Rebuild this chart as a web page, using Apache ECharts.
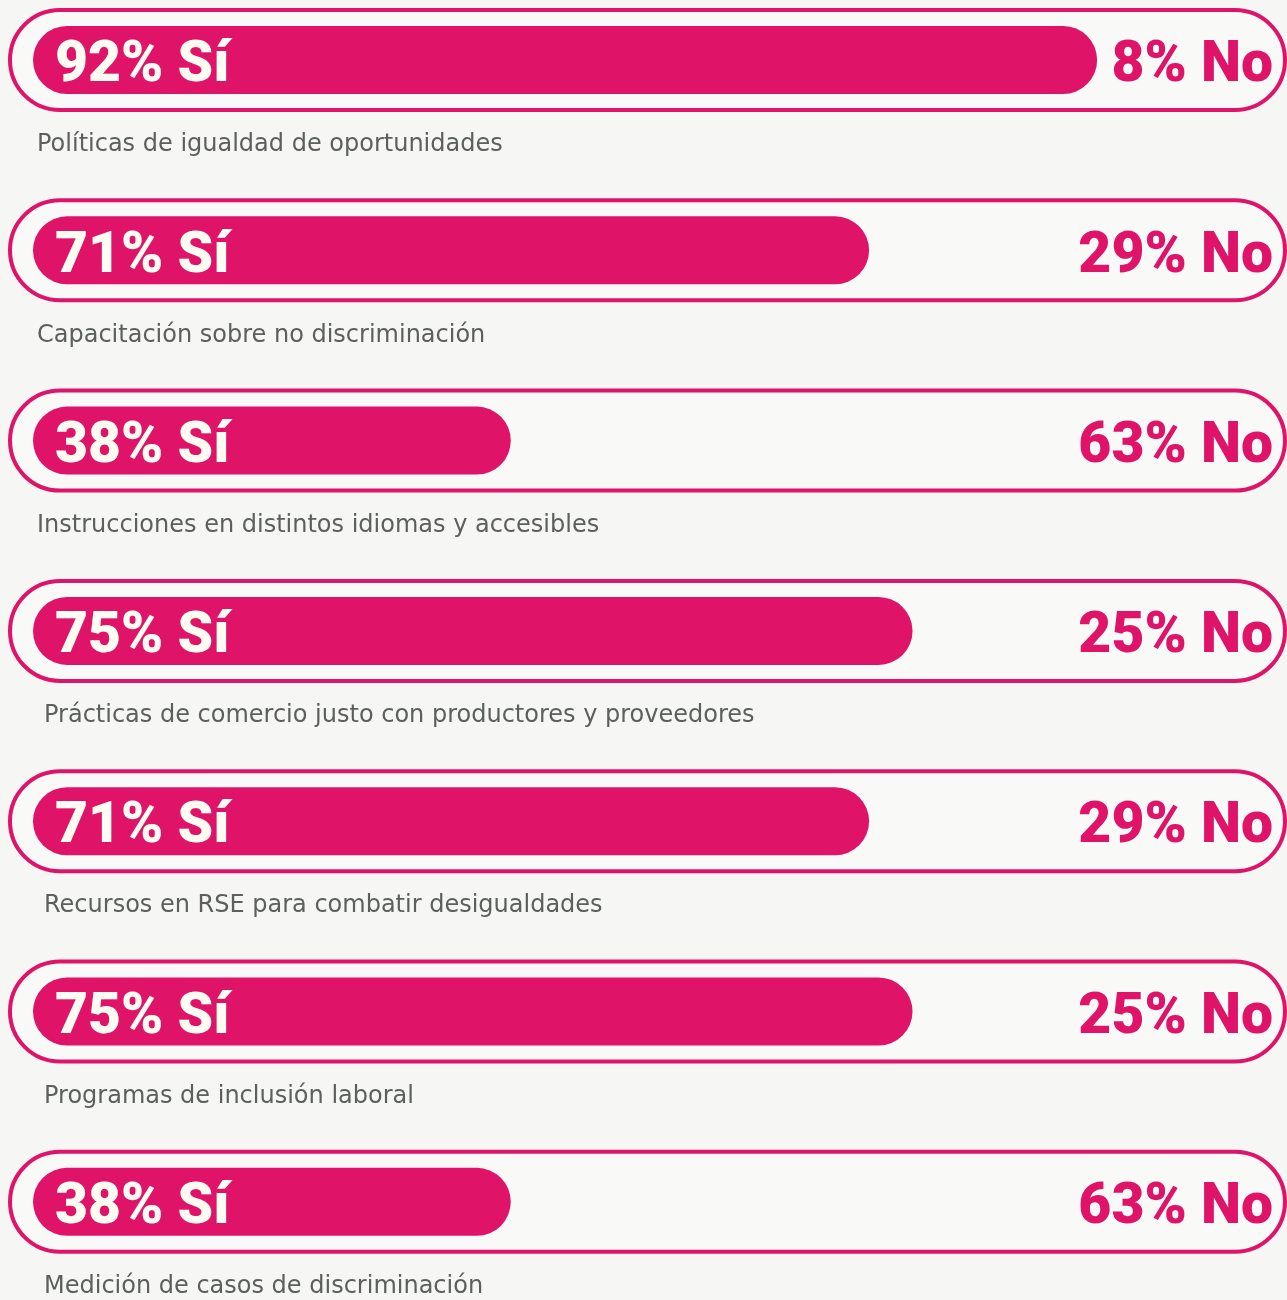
<!DOCTYPE html>
<html>
<head>
  <meta charset="utf-8">
  <title>RSE encuesta</title>
  <script src="https://cdn.jsdelivr.net/npm/echarts@6/dist/echarts.min.js"></script>
  <style>
    html, body { margin: 0; padding: 0; background: #f6f6f5; }
  </style>
</head>
<body>
  <div id="main" style="width:1287px;height:1300px;"></div>
  <script type="text/javascript">
    // datos
    var categories = [
      'Políticas de igualdad de oportunidades',
      'Capacitación sobre no discriminación',
      'Instrucciones en distintos idiomas y accesibles',
      'Prácticas de comercio justo con productores y proveedores',
      'Recursos en RSE para combatir desigualdades',
      'Programas de inclusión laboral',
      'Medición de casos de discriminación'
    ];
    var siValues = [92, 71, 38, 75, 71, 75, 38];
    var noValues = [8, 29, 63, 25, 29, 25, 63];

    var PINK = '#df1469';

    var myChart = echarts.init(document.getElementById('main'));

    var seriesData = siValues.map(function (v, i) {
      return [v, i, noValues[i]];
    });

    var option = {
      backgroundColor: '#f6f6f5',
      animation: false,
      grid: { left: 33, top: 0, width: 1151, height: 1300 },
      xAxis: { type: 'value', min: -6, max: 100, show: false },
      // filas cada ~190px, la primera centrada en y=60
      yAxis: { type: 'value', min: -0.3153, max: 6.5158, inverse: true, show: false },
      series: [{
        type: 'custom',
        data: seriesData,
        encode: { x: 0, y: 1 },
        renderItem: function (params, api) {
          var i = api.value(1);
          var end = api.coord([api.value(0), i]);
          var cy = end[1];
          var left = params.coordSys.x;
          return {
            type: 'group',
            children: [
              {
                type: 'rect',
                shape: { x: 10, y: cy - 50, width: 1275, height: 100, r: 50 },
                style: { fill: 'rgba(255,255,255,0.35)', stroke: PINK, lineWidth: 4 }
              },
              {
                type: 'rect',
                shape: { x: left, y: cy - 34, width: end[0] - left, height: 68, r: 34 },
                style: { fill: PINK }
              },
              {
                type: 'text',
                x: 55, y: cy + 7,
                style: {
                  text: api.value(0) + '% Sí',
                  fill: '#fffdf2',
                  font: '900 57px Roboto',
                  verticalAlign: 'middle'
                }
              },
              {
                type: 'text',
                x: 1273, y: cy + 7,
                style: {
                  text: api.value(2) + '% No',
                  fill: PINK,
                  font: '900 57px Roboto',
                  align: 'right',
                  verticalAlign: 'middle'
                }
              },
              {
                type: 'text',
                x: i < 3 ? 37 : 44, y: cy + 85,
                style: {
                  text: categories[i],
                  fill: '#5b5f5d',
                  font: '24px "DejaVu Sans"',
                  verticalAlign: 'middle'
                }
              }
            ]
          };
        }
      }]
    };

    myChart.setOption(option);
  </script>
</body>
</html>
